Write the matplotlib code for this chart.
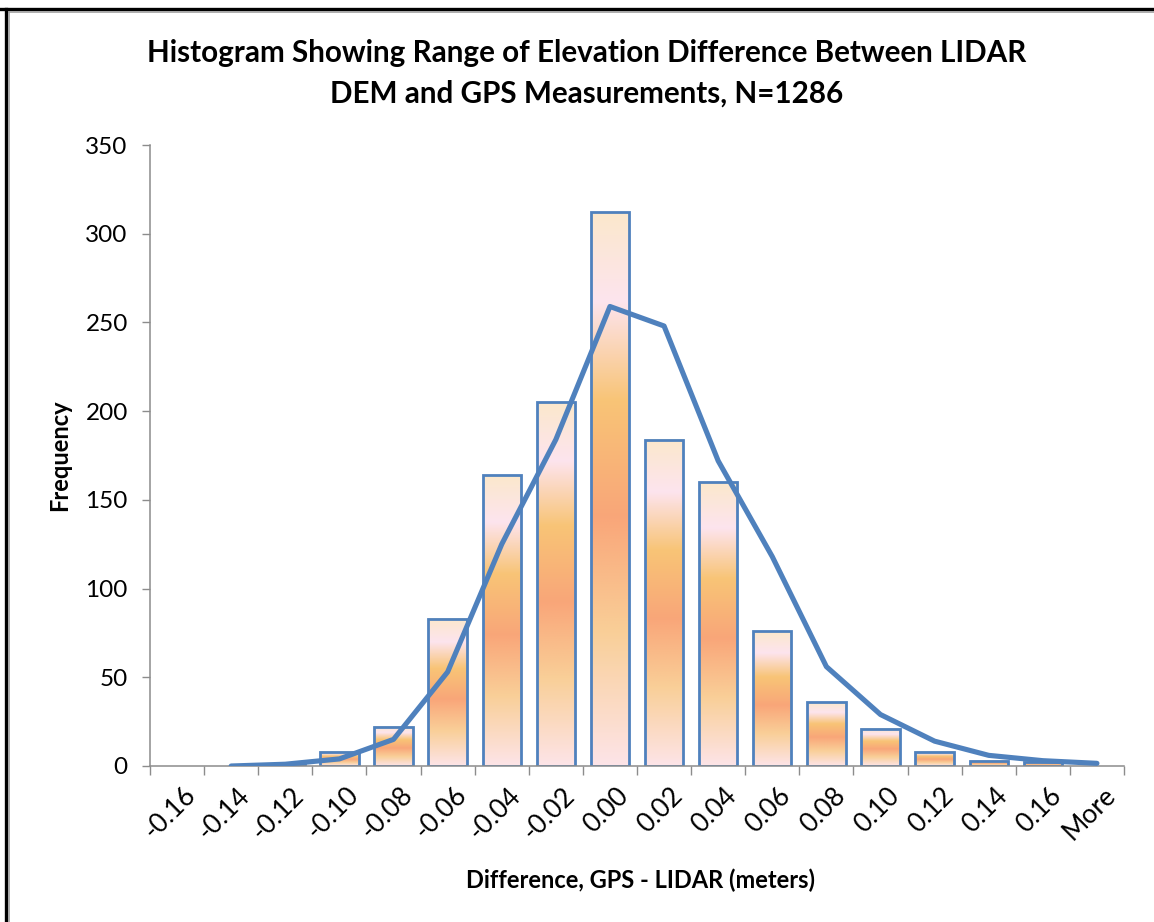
import numpy as np
import matplotlib
matplotlib.use('Agg')
import matplotlib.pyplot as plt
import matplotlib.transforms as mtrans
from matplotlib.colors import LinearSegmentedColormap
from matplotlib.lines import Line2D

plt.rcParams['font.family'] = ['Lato', 'DejaVu Sans']

# histogram bins (upper edge labels) and counts
bins = ['-0.16', '-0.14', '-0.12', '-0.10', '-0.08', '-0.06', '-0.04', '-0.02',
        '0.00', '0.02', '0.04', '0.06', '0.08', '0.10', '0.12', '0.14', '0.16', 'More']
counts = [0, 0, 1, 8, 22, 83, 164, 205, 312, 184, 160, 76, 36, 21, 8, 3, 2, 0]
# fitted curve drawn over the bars
curve = [np.nan, 0, 1, 4, 15, 53, 125, 184, 259, 248, 172, 118, 56, 29, 14, 6, 3, 1.5]

blue = '#4F81BD'
axis_grey = '#8C8C8C'

# gradient used for the bar fill (top -> bottom)
fill = LinearSegmentedColormap.from_list('sunset', [
    (0.00, '#FBE8CC'),
    (0.16, '#FDE4EE'),
    (0.34, '#F8C476'),
    (0.55, '#F9A679'),
    (0.76, '#F9CF98'),
    (1.00, '#FDE4E8'),
])
grad = np.linspace(0, 1, 256).reshape(-1, 1)

fig = plt.figure(figsize=(11.54, 9.22), dpi=100)
ax = fig.add_axes([0.130, 0.1692, 0.844, 0.6735])

x = np.arange(len(bins))
w = 0.71
for xi, c in zip(x, counts):
    if c <= 0:
        continue
    ax.imshow(grad, cmap=fill, aspect='auto', extent=[xi - w / 2, xi + w / 2, 0, c],
              origin='upper', zorder=1, interpolation='bilinear')
    ax.bar(xi, c, width=w, facecolor='none', edgecolor=blue, linewidth=2.0, zorder=2)

ax.plot(x, curve, color=blue, linewidth=3.7, solid_joinstyle='round',
        solid_capstyle='round', zorder=3)

ax.set_xlim(-0.5, len(bins) - 0.5)
ax.set_ylim(0, 350)
ax.set_yticks(np.arange(0, 351, 50))
ax.set_xticks(x)
ax.set_xticklabels(bins, rotation=45, ha='right', va='top', rotation_mode='anchor')
ax.set_xticks(np.arange(-0.5, len(bins), 1), minor=True)
ax.tick_params(axis='x', which='major', length=0, labelsize=19, pad=12, colors='black')
ax.tick_params(axis='x', which='minor', length=6.5, width=1, color=axis_grey, direction='out')
ax.tick_params(axis='y', length=6, width=1, color=axis_grey, labelsize=17.5, pad=10)
off = mtrans.ScaledTranslation(6 / 100, 0, fig.dpi_scale_trans)
for lbl in ax.get_xticklabels():
    lbl.set_transform(lbl.get_transform() + off)

for s in ['top', 'right']:
    ax.spines[s].set_visible(False)
for s in ['left', 'bottom']:
    ax.spines[s].set_color(axis_grey)
    ax.spines[s].set_linewidth(1.1)

fig.text(0.508, 0.942, 'Histogram Showing Range of Elevation Difference Between LIDAR',
         ha='center', va='center', fontsize=21.3, fontweight='bold')
fig.text(0.508, 0.898, 'DEM and GPS Measurements, N=1286',
         ha='center', va='center', fontsize=21.3, fontweight='bold')
fig.text(0.052, 0.5065, 'Frequency', rotation=90, ha='center', va='center',
         fontsize=17, fontweight='bold')
fig.text(0.5546, 0.0456, 'Difference, GPS - LIDAR (meters)', ha='center', va='center',
         fontsize=17, fontweight='bold')

# page border (top and left edges only)
fig.add_artist(Line2D([0, 1], [1 - 9.5 / 922] * 2, color='black', linewidth=2.4,
                      transform=fig.transFigure))
fig.add_artist(Line2D([8 / 1154, 1], [1 - 12 / 922] * 2, color='#A0A0A0', linewidth=1.2,
                      transform=fig.transFigure))
fig.add_artist(Line2D([5.5 / 1154] * 2, [0, 1 - 9.5 / 922], color='black', linewidth=2.4,
                      transform=fig.transFigure))
fig.add_artist(Line2D([8.5 / 1154] * 2, [0, 1 - 12 / 922], color='#A0A0A0', linewidth=1.2,
                      transform=fig.transFigure))

fig.savefig('out.png', dpi=100)
